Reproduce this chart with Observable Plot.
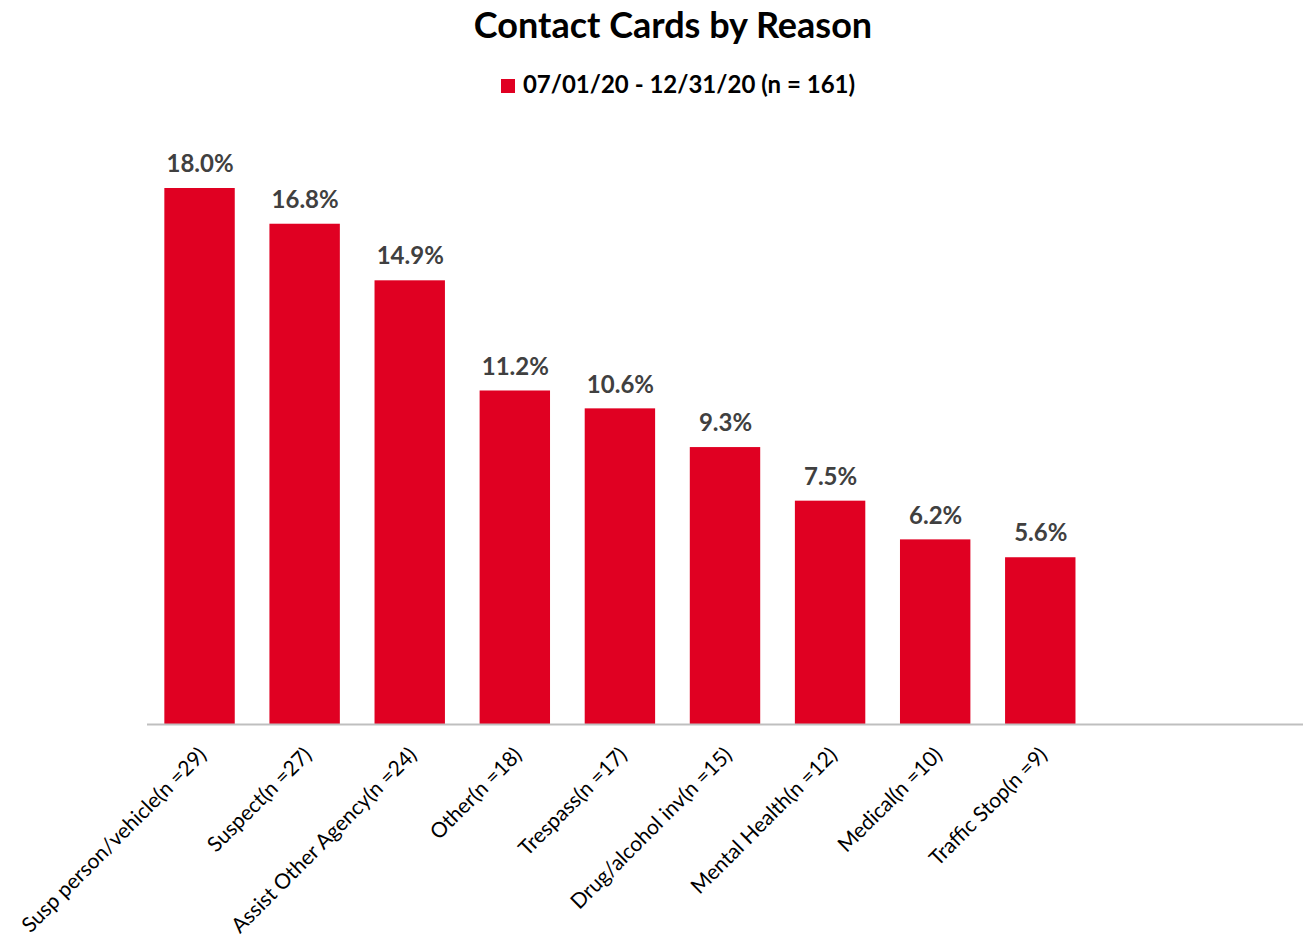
<!DOCTYPE html>
<html>
<head>
<meta charset="utf-8">
<script src="https://cdn.jsdelivr.net/npm/d3@7"></script>
<script src="https://cdn.jsdelivr.net/npm/@observablehq/plot@0.6"></script>
<style>
  body { margin: 0; background: #fff; font-family: Lato, "Open Sans", sans-serif; }
  #title { height: 50px; line-height: 48px; font-size: 36px; font-weight: bold; text-align: center; padding-left: 42px; color: #000; }
  #legend { height: 68px; line-height: 68px; font-size: 24px; font-weight: bold; text-align: center; padding-left: 52px; color: #000; }
  #legend .sw { display: inline-block; width: 14px; height: 14px; background: #E00022; margin-right: 8px; vertical-align: 0px; }
  svg { display: block; }
</style>
</head>
<body>
<div id="title">Contact Cards by Reason</div>
<div id="legend"><span class="sw"></span>07/01/20 - 12/31/20 (n = 161)</div>
<div id="chart"></div>
<script>
const reasons = ["Susp person/vehicle", "Suspect", "Assist Other Agency", "Other", "Trespass", "Drug/alcohol inv", "Mental Health", "Medical", "Traffic Stop"];
const counts = [29, 27, 24, 18, 17, 15, 12, 10, 9];
const percents = [18.0, 16.8, 14.9, 11.2, 10.6, 9.3, 7.5, 6.2, 5.6];
const emptySlots = ["_empty1", "_empty2"];

const data = reasons.map((r, i) => ({
  reason: r,
  label: `${r}(n =${counts[i]})`,
  pct: percents[i],
  pctText: percents[i].toFixed(1) + "%"
}));

const chart = Plot.plot({
  width: 1304,
  height: 823,
  marginLeft: 147,
  marginRight: 1,
  marginTop: 70,
  marginBottom: 217,
  style: { fontFamily: "Lato, 'Open Sans', sans-serif", background: "#fff" },
  x: { domain: [...reasons, ...emptySlots], paddingInner: 0.33, paddingOuter: 0.165, round: false, axis: null },
  y: { domain: [0, 18], axis: null },
  marks: [
    Plot.barY(data, { x: "reason", y: "pct", fill: "#E00022" }),
    Plot.ruleY([0], { stroke: "#BFBFBF", strokeWidth: 2 }),
    Plot.text(data, { x: "reason", y: "pct", text: "pctText", dy: -24, fontSize: 24, fontWeight: "bold", fill: "#404040" }),
    Plot.text(data, { x: "reason", y: () => 0, text: "label", rotate: -45, textAnchor: "end", dx: 3, dy: 27, fontSize: 21, fill: "#000" })
  ]
});
document.getElementById("chart").appendChild(chart);
</script>
</body>
</html>
